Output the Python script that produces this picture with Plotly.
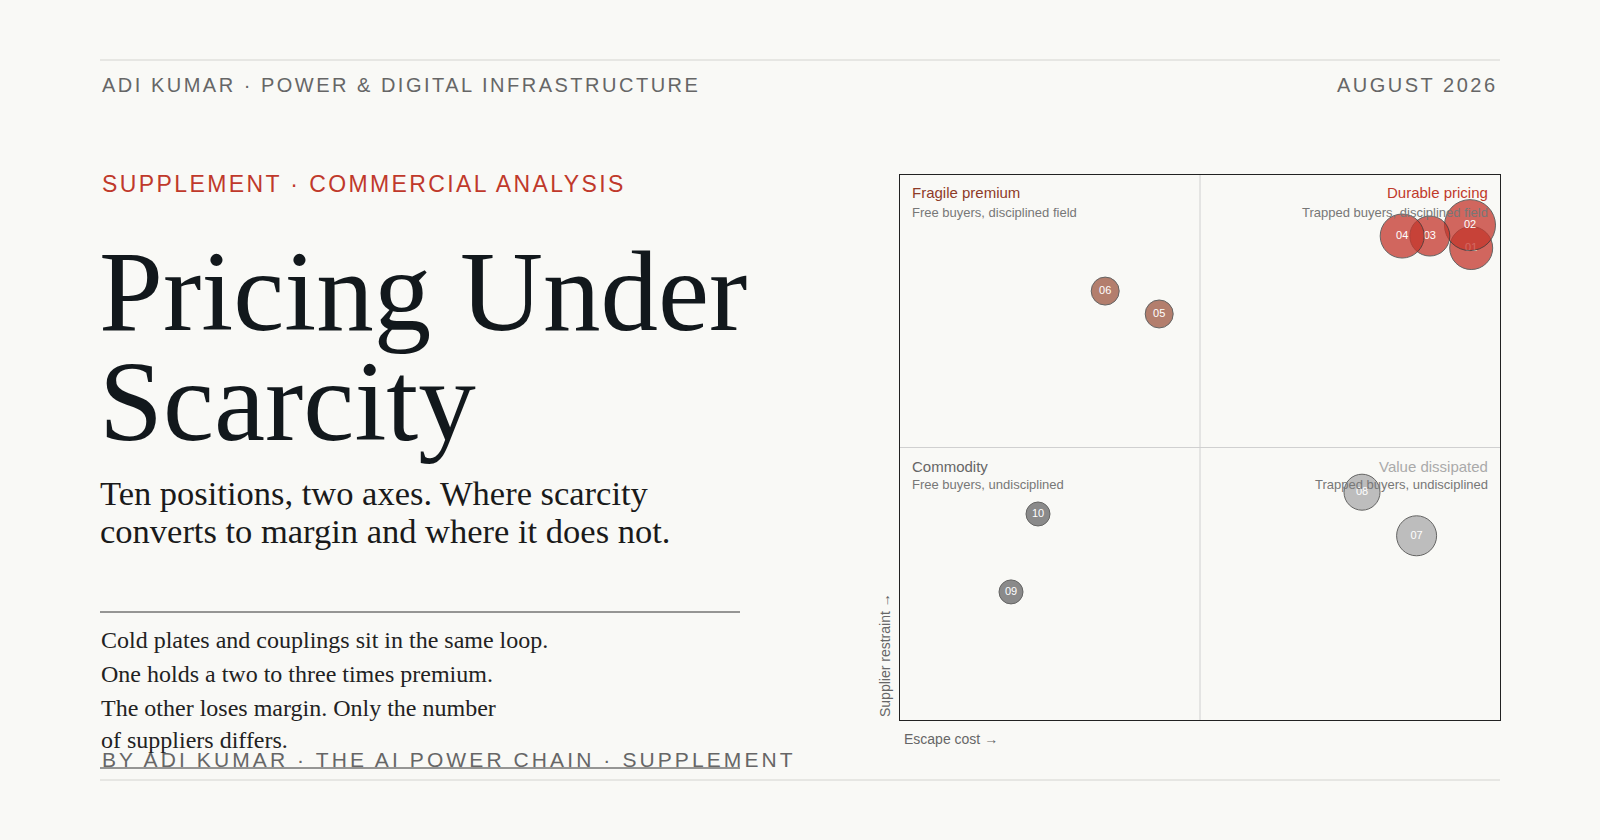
import plotly.graph_objects as go

# data
ids = ["01", "02", "03", "04", "05", "06", "07", "08", "09", "10"]
escape_cost = [95.2, 95.0, 88.3, 83.7, 43.2, 34.2, 86.1, 77.0, 18.5, 23.0]
supplier_restraint = [86.6, 90.8, 88.8, 88.8, 74.5, 78.7, 33.8, 41.8, 23.5, 37.8]
bubble_size = [43, 51, 40, 44, 28, 28, 40, 36, 24, 24]
group = ["durable", "durable", "durable", "durable", "fragile", "fragile",
         "dissipated", "dissipated", "commodity", "commodity"]

quadrant_names = ["Fragile premium", "Durable pricing", "Commodity", "Value dissipated"]
quadrant_notes = ["Free buyers, disciplined field", "Trapped buyers, disciplined field",
                  "Free buyers, undisciplined", "Trapped buyers, undisciplined"]

title_lines = ["Pricing Under", "Scarcity"]
subtitle_lines = ["Ten positions, two axes. Where scarcity",
                  "converts to margin and where it does not."]
body_lines = ["Cold plates and couplings sit in the same loop.",
              "One holds a two to three times premium.",
              "The other loses margin. Only the number",
              "of suppliers differs."]

W, H = 1600, 840
BG = "#f9f9f6"
SANS = "Liberation Sans, Arial, sans-serif"
SERIF = "Liberation Serif, Georgia, serif"
RED = "#c0392b"

group_color = {"durable": "#c4362c", "fragile": "#9c5540",
               "dissipated": "#aaaaaa", "commodity": "#666666"}
label_color = ["#8e3b28", RED, "#666666", "#aaaaaa"]


def px(x):
    return x / W


def py(y):
    return 1 - y / H


def spaced(text, s):
    return f'<span style="letter-spacing:{s}px">{text}</span>'


fig = go.Figure()

# bubbles, one trace each so later bubbles cover earlier labels
for i in range(len(ids)):
    fig.add_trace(go.Scatter(
        x=[escape_cost[i]], y=[supplier_restraint[i]],
        mode="markers+text", text=[ids[i]], textposition="middle center",
        textfont=dict(family=SANS, size=11, color="white"),
        marker=dict(size=bubble_size[i], color=group_color[group[i]], opacity=0.75,
                    line=dict(color="#333333", width=1)),
        showlegend=False, hoverinfo="skip",
    ))

annotations = []


def add_text(text, x, y, size, color, family=SANS, xanchor="left", yanchor="middle", angle=0):
    annotations.append(dict(text=text, x=px(x), y=py(y), xref="paper", yref="paper",
                            xanchor=xanchor, yanchor=yanchor, showarrow=False, textangle=angle,
                            font=dict(family=family, size=size, color=color)))


# header / footer
add_text(spaced("ADI KUMAR · POWER &amp; DIGITAL INFRASTRUCTURE", 2.5), 100, 85, 20, "#666666")
add_text(spaced("AUGUST 2026", 2.5), 1500, 85, 20, "#666666", xanchor="right")
add_text(spaced("SUPPLEMENT · COMMERCIAL ANALYSIS", 2.4), 100, 184, 23, RED)
add_text(spaced("BY ADI KUMAR · THE AI POWER CHAIN · SUPPLEMENT", 3.1), 100, 759, 21, "#666666")

# title block
for line, base in zip(title_lines, [330, 440]):
    add_text(line, 97, base - 0.3375 * 115, 115, "#12181c", family=SERIF)
for line, base in zip(subtitle_lines, [505, 543]):
    add_text(line, 98, base - 0.3375 * 34.5, 34.5, "#1a1a1a", family=SERIF)
for line, base in zip(body_lines, [648, 682, 716, 748]):
    add_text(line, 99, base - 0.3375 * 24, 24, "#222222", family=SERIF)

# quadrant labels
qx = [910, 1490, 910, 1490]
qy = [193, 193, 466, 466]
for i in range(4):
    anchor = "left" if i % 2 == 0 else "right"
    add_text(quadrant_names[i], qx[i], qy[i], 15, label_color[i], xanchor=anchor)
    add_text(quadrant_notes[i], qx[i], qy[i] + 19, 13, "#777777", xanchor=anchor)

# axis titles
add_text("Escape cost →", 902, 739, 14, "#666666")
add_text("Supplier restraint →", 885, 719, 14, "#666666", xanchor="center", yanchor="bottom", angle=-90)

shapes = [
    dict(type="line", xref="paper", yref="paper", x0=px(100), x1=px(1500), y0=py(60), y1=py(60),
         line=dict(color="#d4d4d0", width=1)),
    dict(type="line", xref="paper", yref="paper", x0=px(100), x1=px(1500), y0=py(780), y1=py(780),
         line=dict(color="#d4d4d0", width=1)),
    dict(type="line", xref="paper", yref="paper", x0=px(100), x1=px(740), y0=py(612), y1=py(612),
         line=dict(color="#333333", width=1)),
    dict(type="line", xref="paper", yref="paper", x0=px(100), x1=px(740), y0=py(768), y1=py(768),
         line=dict(color="#333333", width=1)),
    dict(type="line", xref="x", yref="y", x0=50, x1=50, y0=0, y1=100, layer="below",
         line=dict(color="#d0d0d0", width=1)),
    dict(type="line", xref="x", yref="y", x0=0, x1=100, y0=50, y1=50, layer="below",
         line=dict(color="#d0d0d0", width=1)),
]

axis_style = dict(range=[0, 100], showgrid=False, zeroline=False, showticklabels=False,
                  ticks="", showline=True, mirror=True, linecolor="#222222", linewidth=1,
                  fixedrange=True)

fig.update_layout(
    width=W, height=H,
    paper_bgcolor=BG, plot_bgcolor=BG,
    margin=dict(l=0, r=0, t=0, b=0),
    xaxis=dict(domain=[px(900), px(1500)], **axis_style),
    yaxis=dict(domain=[py(720), py(175)], **axis_style),
    annotations=annotations,
    shapes=shapes,
    showlegend=False,
)

fig.write_html("out.html", config={"displayModeBar": False},
               post_script="document.body.style.margin='0';document.body.style.background='%s';" % BG)
